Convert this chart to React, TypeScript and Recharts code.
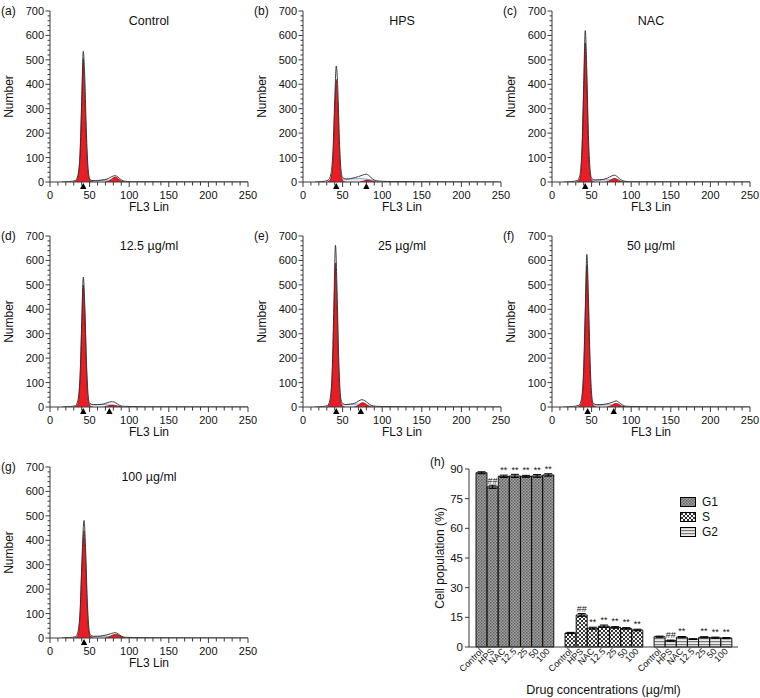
import React from "react";
import {
  ComposedChart,
  Area,
  Line,
  XAxis,
  YAxis,
  ReferenceDot,
  BarChart,
  Bar,
  Cell,
  ErrorBar,
  LabelList,
  Legend,
} from "recharts";

type Pt = [number, number];

// ---- histogram tick values ----
const X_TICKS = [0, 10, 20, 30, 40, 50, 60, 70, 80, 90, 100, 110, 120, 130, 140, 150, 160, 170, 180, 190, 200, 210, 220, 230, 240, 250];
const Y_TICKS = [0, 20, 40, 60, 80, 100, 120, 140, 160, 180, 200, 220, 240, 260, 280, 300, 320, 340, 360, 380, 400, 420, 440, 460, 480, 500, 520, 540, 560, 580, 600, 620, 640, 660, 680, 700];

// ---- (a) Control ----
const rawA: Pt[] = [[15, 0], [25, 2], [32, 6], [35, 25], [38, 120], [40, 330], [42, 535], [44, 420], [46, 200], [48, 60], [50, 15], [53, 6], [58, 5], [65, 8], [72, 12], [78, 22], [82, 26], [86, 20], [90, 9], [95, 3], [105, 1], [130, 1], [250, 0]];
const g1A: Pt[] = [[30, 0], [34, 8], [37, 60], [39, 210], [41, 430], [42, 505], [43, 450], [45, 250], [47, 90], [49, 20], [52, 2], [55, 0]];
const g2A: Pt[] = [[70, 0], [75, 5], [79, 15], [82, 20], [85, 16], [89, 6], [94, 0]];
const sA: Pt[] = [[40, 0], [46, 5], [55, 6], [65, 7], [75, 8], [85, 4], [95, 0]];
const pinkA: Pt[] = [];
const markA = [42];

// ---- (b) HPS ----
const rawB: Pt[] = [[15, 0], [25, 2], [32, 8], [35, 30], [38, 140], [40, 330], [42, 475], [44, 380], [46, 170], [48, 50], [50, 18], [55, 12], [60, 14], [65, 18], [70, 22], [75, 28], [80, 32], [84, 24], [88, 12], [93, 5], [100, 3], [110, 2], [130, 2], [150, 1], [250, 0]];
const g1B: Pt[] = [[31, 0], [35, 12], [38, 110], [40, 290], [42, 420], [44, 320], [46, 130], [48, 30], [51, 3], [54, 0]];
const g2B: Pt[] = [[72, 0], [76, 3], [80, 8], [84, 7], [88, 3], [92, 0]];
const sB: Pt[] = [[38, 0], [44, 10], [50, 12], [60, 13], [70, 14], [80, 12], [90, 5], [98, 0]];
const pinkB: Pt[] = [[33, 0], [36, 20], [39, 60], [41, 45], [43, 15], [45, 0]];
const markB = [42, 80];

// ---- (c) NAC ----
const rawC: Pt[] = [[15, 0], [25, 2], [32, 6], [35, 25], [38, 150], [40, 400], [42, 620], [44, 450], [46, 190], [48, 55], [50, 15], [55, 8], [60, 9], [65, 11], [70, 16], [75, 24], [79, 28], [83, 20], [87, 9], [92, 3], [100, 1], [130, 1], [250, 0]];
const g1C: Pt[] = [[31, 0], [35, 12], [38, 130], [40, 370], [42, 570], [44, 400], [46, 150], [48, 35], [51, 3], [54, 0]];
const g2C: Pt[] = [[68, 0], [72, 4], [76, 12], [79, 15], [82, 12], [86, 4], [90, 0]];
const sC: Pt[] = [[40, 0], [46, 6], [55, 8], [65, 9], [72, 9], [80, 6], [88, 2], [94, 0]];
const pinkC: Pt[] = [[34, 0], [37, 15], [39, 40], [41, 30], [43, 8], [45, 0]];
const markC = [42];

// ---- (d) 12.5 ----
const rawD: Pt[] = [[15, 0], [25, 2], [32, 5], [35, 25], [38, 130], [40, 340], [42, 532], [44, 410], [46, 190], [48, 55], [50, 15], [55, 10], [60, 10], [65, 11], [70, 15], [75, 20], [79, 22], [83, 17], [87, 8], [92, 3], [100, 2], [120, 1], [250, 0]];
const g1D: Pt[] = [[31, 0], [35, 12], [38, 120], [40, 320], [42, 500], [44, 380], [46, 160], [48, 35], [51, 3], [54, 0]];
const g2D: Pt[] = [[68, 0], [72, 3], [76, 7], [79, 8], [83, 6], [87, 2], [90, 0]];
const sD: Pt[] = [[42, 0], [46, 8], [52, 10], [60, 10], [68, 10], [76, 8], [84, 4], [92, 0]];
const pinkD: Pt[] = [];
const markD = [42, 75];

// ---- (e) 25 ----
const rawE: Pt[] = [[15, 0], [25, 2], [31, 6], [34, 30], [37, 160], [39, 420], [41, 662], [43, 480], [45, 210], [47, 60], [49, 18], [54, 10], [60, 12], [65, 15], [70, 24], [74, 30], [78, 26], [82, 16], [86, 7], [92, 3], [100, 2], [130, 1], [250, 0]];
const g1E: Pt[] = [[30, 0], [34, 15], [37, 140], [39, 380], [41, 590], [43, 410], [45, 160], [47, 40], [50, 3], [53, 0]];
const g2E: Pt[] = [[64, 0], [68, 4], [72, 13], [75, 18], [78, 15], [82, 6], [86, 0]];
const sE: Pt[] = [[38, 0], [44, 8], [52, 10], [60, 11], [68, 12], [76, 9], [84, 4], [92, 0]];
const pinkE: Pt[] = [[32, 0], [35, 20], [38, 60], [40, 45], [42, 15], [44, 0]];
const markE = [42, 73];

// ---- (f) 50 ----
const rawF: Pt[] = [[15, 0], [26, 2], [34, 7], [37, 30], [40, 160], [42, 400], [44, 625], [46, 450], [48, 200], [50, 55], [52, 15], [57, 9], [63, 10], [68, 12], [73, 16], [78, 22], [81, 25], [85, 18], [89, 8], [94, 3], [105, 2], [130, 1], [250, 0]];
const g1F: Pt[] = [[33, 0], [37, 15], [40, 140], [42, 370], [44, 580], [46, 400], [48, 160], [50, 35], [53, 3], [56, 0]];
const g2F: Pt[] = [[70, 0], [74, 4], [78, 12], [81, 15], [84, 12], [88, 4], [92, 0]];
const sF: Pt[] = [[42, 0], [48, 6], [56, 8], [65, 9], [73, 9], [81, 6], [89, 2], [95, 0]];
const pinkF: Pt[] = [[35, 0], [38, 12], [41, 30], [43, 20], [45, 5], [47, 0]];
const markF = [45, 78];

// ---- (g) 100 ----
const rawG: Pt[] = [[15, 0], [25, 2], [32, 5], [35, 22], [38, 110], [40, 290], [43, 481], [45, 360], [47, 160], [49, 45], [51, 12], [55, 7], [60, 7], [66, 9], [72, 13], [78, 19], [82, 22], [86, 17], [90, 8], [95, 3], [105, 2], [130, 1], [250, 0]];
const g1G: Pt[] = [[31, 0], [35, 10], [38, 100], [40, 270], [43, 440], [45, 320], [47, 130], [49, 30], [52, 3], [55, 0]];
const g2G: Pt[] = [[70, 0], [75, 5], [79, 12], [83, 15], [87, 11], [91, 4], [95, 0]];
const sG: Pt[] = [[42, 0], [48, 5], [56, 6], [66, 7], [75, 7], [84, 4], [92, 0]];
const pinkG: Pt[] = [];
const markG = [43];

const PANELS = [
  { letter: "(a)", title: "Control", raw: rawA, g1: g1A, g2: g2A, s: sA, pink: pinkA, marks: markA },
  { letter: "(b)", title: "HPS", raw: rawB, g1: g1B, g2: g2B, s: sB, pink: pinkB, marks: markB },
  { letter: "(c)", title: "NAC", raw: rawC, g1: g1C, g2: g2C, s: sC, pink: pinkC, marks: markC },
  { letter: "(d)", title: "12.5 \u00b5g/ml", raw: rawD, g1: g1D, g2: g2D, s: sD, pink: pinkD, marks: markD },
  { letter: "(e)", title: "25 \u00b5g/ml", raw: rawE, g1: g1E, g2: g2E, s: sE, pink: pinkE, marks: markE },
  { letter: "(f)", title: "50 \u00b5g/ml", raw: rawF, g1: g1F, g2: g2F, s: sF, pink: pinkF, marks: markF },
  { letter: "(g)", title: "100 \u00b5g/ml", raw: rawG, g1: g1G, g2: g2G, s: sG, pink: pinkG, marks: markG },
];
const PANEL_POS = [
  [0, 0], [253, 0], [502, 0],
  [0, 225], [253, 225], [502, 225],
  [0, 456],
];

// ---- (h) bar chart ----
const conditions = ["Control", "HPS", "NAC", "12.5", "25", "50", "100"];
const g1Values = [88.1, 81.0, 86.3, 86.5, 86.3, 86.5, 87.0];
const g1Errors = [0.5, 0.8, 0.6, 0.8, 0.5, 0.7, 0.6];
const g1Marks = ["", "##", "**", "**", "**", "**", "**"];
const sValues = [7.1, 16.2, 9.5, 10.5, 9.9, 9.4, 8.6];
const sErrors = [0.3, 0.7, 0.5, 0.6, 0.4, 0.4, 0.4];
const sMarks = ["", "##", "**", "**", "**", "**", "**"];
const g2Values = [5.2, 3.2, 5.0, 4.0, 4.9, 4.7, 4.5];
const g2Errors = [0.3, 0.3, 0.3, 0.2, 0.3, 0.3, 0.3];
const g2Marks = ["", "##", "**", "", "**", "**", "**"];
const PHASES = ["G1", "S", "G2"];
const BAR_Y_TICKS = [0, 15, 30, 45, 60, 75, 90];

const phaseRows = (phase: string, values: number[], errs: number[], marks: string[]) =>
  conditions.map((c, i) => ({ name: c, phase, value: values[i], err: errs[i], mark: marks[i] }));

const barData = [
  ...phaseRows("G1", g1Values, g1Errors, g1Marks),
  { name: "", phase: "gap", value: null, err: null, mark: "" },
  ...phaseRows("S", sValues, sErrors, sMarks),
  { name: "", phase: "gap", value: null, err: null, mark: "" },
  ...phaseRows("G2", g2Values, g2Errors, g2Marks),
];

const toPts = (a: Pt[]) => a.map(([x, y]) => ({ x, y }));

const AXIS = "#3a3a3a";
const RED = "#ec1c24";

const XTick = (props: any) => {
  const { x, y, payload } = props;
  const major = payload.value % 50 === 0;
  return (
    <g>
      <line x1={x} y1={y} x2={x} y2={y + (major ? 5 : 3.5)} stroke={AXIS} strokeWidth={1} />
      {major && (
        <text x={x} y={y + 17} textAnchor="middle" fontSize={11} fill="#111">
          {payload.value}
        </text>
      )}
    </g>
  );
};

const YTick = (props: any) => {
  const { x, y, payload } = props;
  const major = payload.value % 100 === 0;
  return (
    <g>
      <line x1={x} y1={y} x2={x - (major ? 4.5 : 2.5)} y2={y} stroke={AXIS} strokeWidth={1} />
      {major && (
        <text x={x - 6} y={y + 4} textAnchor="end" fontSize={11} fill="#111">
          {payload.value}
        </text>
      )}
    </g>
  );
};

const SideLabel = (props: any) => {
  const { viewBox, value, dx = 0 } = props;
  const cx = viewBox.x + dx;
  const cy = viewBox.y + viewBox.height / 2;
  return (
    <text x={cx} y={cy} transform={`rotate(-90 ${cx} ${cy})`} textAnchor="middle" dominantBaseline="central" fontSize={12} fill="#111">
      {value}
    </text>
  );
};

const Marker = (props: any) => {
  const { cx, cy } = props;
  return <path d={`M${cx},${cy + 1} L${cx + 3.2},${cy + 7} L${cx - 3.2},${cy + 7} Z`} fill="#000" />;
};

const Histogram = ({ panel }: { panel: (typeof PANELS)[number] }) => (
  <ComposedChart width={258} height={213} margin={{ top: 11, right: 10, left: 20, bottom: 0 }}>
    <XAxis
      type="number"
      dataKey="x"
      domain={[0, 250]}
      ticks={X_TICKS}
      interval={0}
      tick={<XTick />}
      tickLine={false}
      tickSize={0}
      tickMargin={0}
      axisLine={{ stroke: AXIS }}
      height={31}
      allowDataOverflow
      label={{ value: "FL3 Lin", position: "insideBottom", offset: 2, fontSize: 12, fill: "#111" }}
    />
    <YAxis
      type="number"
      domain={[0, 700]}
      ticks={Y_TICKS}
      interval={0}
      tick={<YTick />}
      tickLine={false}
      tickSize={0}
      tickMargin={0}
      axisLine={{ stroke: AXIS }}
      width={30}
      allowDataOverflow
      label={<SideLabel value="Number" dx={-11} />}
    />
    <Area data={toPts(panel.s)} dataKey="y" type="monotone" fill="#d9def0" stroke="#7d87b8" strokeWidth={0.8} isAnimationActive={false} />
    <Area data={toPts(panel.pink)} dataKey="y" type="monotone" fill="#e0479a" stroke="#b03070" strokeWidth={0.5} isAnimationActive={false} />
    <Area data={toPts(panel.g1)} dataKey="y" type="monotone" fill={RED} fillOpacity={1} stroke="#5a0a0a" strokeWidth={0.6} isAnimationActive={false} />
    <Area data={toPts(panel.g2)} dataKey="y" type="monotone" fill={RED} fillOpacity={1} stroke="#5a0a0a" strokeWidth={0.6} isAnimationActive={false} />
    <Line data={toPts(panel.raw)} dataKey="y" type="monotone" stroke="#2b2b2b" strokeWidth={0.9} dot={false} isAnimationActive={false} />
    {panel.marks.map((m) => (
      <ReferenceDot key={m} x={m} y={0} r={3} ifOverflow="visible" shape={(p: any) => <Marker {...p} />} />
    ))}
    <text x={149} y={25} textAnchor="middle" fontSize={12.5} fill="#111">
      {panel.title}
    </text>
    <text x={1} y={15} fontSize={12} fill="#111">
      {panel.letter}
    </text>
  </ComposedChart>
);

const BarTick = (props: any) => {
  const { x, y, payload } = props;
  const tx = x + 2;
  const ty = y + 5;
  return (
    <text x={tx} y={ty} transform={`rotate(-45 ${tx} ${ty})`} textAnchor="end" fontSize={9} fill="#111">
      {payload.value}
    </text>
  );
};

const BarYTick = (props: any) => {
  const { x, y, payload } = props;
  return (
    <g>
      <line x1={x} y1={y} x2={x - 4} y2={y} stroke={AXIS} />
      <text x={x - 6} y={y + 4} textAnchor="end" fontSize={11.5} fill="#111">
        {payload.value}
      </text>
    </g>
  );
};

const PhaseLegend = () => (
  <div style={{ fontSize: 12, color: "#111", lineHeight: "15px" }}>
    {PHASES.map((p) => (
      <div key={p} style={{ display: "flex", alignItems: "center" }}>
        <svg width={17} height={11} style={{ marginRight: 5 }}>
          <rect x={0.5} y={0.5} width={15} height={9} fill={`url(#pat-${p})`} stroke="#000" />
        </svg>
        <span>{p}</span>
      </div>
    ))}
  </div>
);

const PhaseBars = () => (
  <BarChart width={360} height={243} data={barData} margin={{ top: 14, right: 22, left: 34, bottom: 0 }} barCategoryGap={0} barGap={0}>
    <defs>
      <pattern id="pat-G1" width={3} height={3} patternUnits="userSpaceOnUse">
        <rect width={3} height={3} fill="#a3a3a3" />
        <rect width={1.5} height={1.5} fill="#5e5e5e" />
        <rect x={1.5} y={1.5} width={1.5} height={1.5} fill="#6e6e6e" />
      </pattern>
      <pattern id="pat-S" width={4} height={4} patternUnits="userSpaceOnUse">
        <rect width={4} height={4} fill="#f2f2f2" />
        <path d="M0,0 L4,4 M4,0 L0,4" stroke="#222" strokeWidth={0.9} />
      </pattern>
      <pattern id="pat-G2" width={3} height={3} patternUnits="userSpaceOnUse">
        <rect width={3} height={3} fill="#ededed" />
        <rect y={0} width={3} height={1.2} fill="#7a7a7a" />
      </pattern>
    </defs>
    <XAxis
      dataKey="name"
      interval={0}
      tick={<BarTick />}
      tickLine={false}
      tickSize={0}
      tickMargin={0}
      axisLine={{ stroke: AXIS }}
      padding={{ left: 7, right: 6 }}
      height={51}
      label={{ value: "Drug concentrations (\u00b5g/ml)", position: "insideBottom", offset: 4, fontSize: 12.5, fill: "#111" }}
    />
    <YAxis
      domain={[0, 90]}
      ticks={BAR_Y_TICKS}
      interval={0}
      tick={<BarYTick />}
      tickLine={false}
      tickSize={0}
      tickMargin={0}
      axisLine={{ stroke: AXIS }}
      width={35}
      label={<SideLabel value="Cell population (%)" dx={6} />}
    />
    <Legend
      layout="vertical"
      align="center"
      verticalAlign="middle"
      content={() => <PhaseLegend />}
      wrapperStyle={{ left: 280, top: 40, width: 60, height: 48 }}
    />
    <Bar dataKey="value" stroke="#000" strokeWidth={0.9} isAnimationActive={false} legendType="none">
      {barData.map((d, i) => (
        <Cell key={i} fill={`url(#pat-${d.phase})`} />
      ))}
      <ErrorBar dataKey="err" width={4} stroke="#000" strokeWidth={1} />
      <LabelList dataKey="mark" position="top" offset={3} fontSize={9} fill="#111" />
    </Bar>
    <text x={30} y={11} fontSize={12} fill="#111">
      (h)
    </text>
  </BarChart>
);

export default function App() {
  return (
    <div style={{ position: "absolute", left: 0, top: 0, width: 760, height: 698, overflow: "hidden", background: "#fff", fontFamily: "'Liberation Sans', Arial, sans-serif" }}>
      {PANELS.map((p, i) => (
        <div key={p.letter} style={{ position: "absolute", left: PANEL_POS[i][0], top: PANEL_POS[i][1] }}>
          <Histogram panel={p} />
        </div>
      ))}
      <div style={{ position: "absolute", left: 400, top: 455 }}>
        <PhaseBars />
      </div>
    </div>
  );
}
